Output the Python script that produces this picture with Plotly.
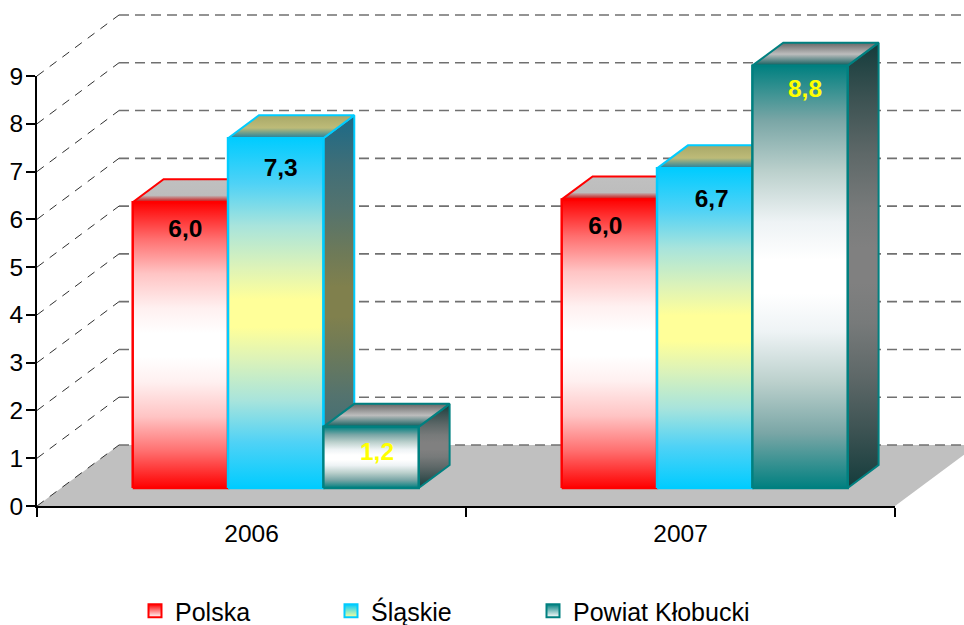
import plotly.graph_objects as go

# ---------- data ----------
categories = ["2006", "2007"]
series_names = ["Polska", "Śląskie", "Powiat Kłobucki"]
polska = [5.98, 6.04]
slaskie = [7.32, 6.69]
powiat = [1.28, 8.84]
label_polska = ["6,0", "6,0"]
label_slaskie = ["7,3", "6,7"]
label_powiat = ["1,2", "8,8"]
y_ticks = [0, 1, 2, 3, 4, 5, 6, 7, 8, 9]

# ---------- chart geometry (plot frame in pixels, oblique projection) ----------
W, H = 964, 625
L, R, T, B = 37, 895, 76, 506
PX_X = (R - L) / 2            # pixels per category
PX_Y = (B - T) / 9            # pixels per value unit
WALL_DX, WALL_DY = 82, 61     # oblique depth of the walls, pixels
BAR_D0, BAR_D1 = 18 / 61, 41 / 61  # bar front / back plane as fraction of wall depth
GAP = 1 / 6
BAR_W = (1 - 2 * GAP) / 3


def proj(x, y, d):
    return x + d * WALL_DX / PX_X, y + d * WALL_DY / PX_Y


FONT = "Liberation Sans, Arial, sans-serif"


def band(edge, s1, s2, s3, mid):
    return [[0, edge], [0.13, s1], [0.25, s2], [0.37, s3], [0.46, mid],
            [0.54, mid], [0.63, s3], [0.75, s2], [0.87, s1], [1, edge]]


front_scales = [
    band("#FF0000", "#FF7070", "#FFC4C4", "#FFF0F0", "#FFFFFF"),
    band("#00CCFF", "#4FD2F6", "#A8E4DC", "#DDF3B8", "#FFFF99"),
    band("#008080", "#7AA6A6", "#BBD0CC", "#EEF3F5", "#FFFFFF"),
]
side_scales = [
    band("#800000", "#A03838", "#A06262", "#807878", "#808080"),
    band("#1A6A88", "#3E6E78", "#54736E", "#6E7A58", "#80804D"),
    band("#143C3C", "#3D5353", "#5E6868", "#777A7A", "#808080"),
]
top_scales = [
    [[0, "#D00000"], [0.3, "#BDBDBD"], [1, "#C0C0C0"]],
    [[0, "#1C7FA0"], [0.45, "#BDBB78"], [1, "#A8A868"]],
    [[0, "#0F5C5C"], [0.5, "#BDBDBD"], [1, "#666666"]],
]
line_colors = ["#FF0000", "#00CCFF", "#008080"]
label_colors = ["black", "black", "#FFFF00"]

fig = go.Figure()


def poly(xs, ys, scale, line, width=2):
    fig.add_trace(go.Scatter(
        x=xs + [xs[0]], y=ys + [ys[0]], mode="lines", fill="toself", xaxis="x2", yaxis="y2",
        fillgradient=dict(type="vertical", colorscale=scale),
        line=dict(color=line, width=width),
        showlegend=False, hoverinfo="skip"))


# floor
corners = [proj(0, 0, 0), proj(0, 0, 1), proj(2, 0, 1), proj(2, 0, 0), proj(0, 0, 0)]
fig.add_trace(go.Scatter(
    x=[c[0] for c in corners], y=[c[1] for c in corners], mode="lines", fill="toself",
    xaxis="x2", yaxis="y2", fillcolor="#C0C0C0", line=dict(width=0),
    showlegend=False, hoverinfo="skip"))

# dashed grid on the walls
dx, dy, hx, hy = [], [], [], []
for v in y_ticks:
    a, b, c = proj(0, v, 0), proj(0, v, 1), proj(2, v, 1)
    dx += [a[0], b[0], None]
    dy += [a[1], b[1], None]
    hx += [b[0], c[0], None]
    hy += [b[1], c[1], None]
fig.add_trace(go.Scatter(
    x=dx, y=dy, mode="lines", line=dict(color="#303030", width=1, dash="8.5px,7.3px"),
    xaxis="x2", yaxis="y2", showlegend=False, hoverinfo="skip"))
fig.add_trace(go.Scatter(
    x=hx, y=hy, mode="lines", line=dict(color="#707070", width=1.6, dash="10px,6px"),
    xaxis="x2", yaxis="y2", showlegend=False, hoverinfo="skip"))

# bars
all_values = [polska, slaskie, powiat]
for ci in range(len(categories)):
    for si in range(3):
        v = all_values[si][ci]
        x0 = ci + GAP + si * BAR_W
        x1 = x0 + BAR_W
        a, b = BAR_D0, BAR_D1
        pts = {
            "fb": proj(x0, 0, a), "fB": proj(x1, 0, a),
            "ft": proj(x0, v, a), "fT": proj(x1, v, a),
            "bT": proj(x1, v, b), "bt": proj(x0, v, b), "bB": proj(x1, 0, b),
        }
        side = [pts["fB"], pts["bB"], pts["bT"], pts["fT"]]
        poly([p[0] for p in side], [p[1] for p in side], side_scales[si], line_colors[si])
        top = [pts["ft"], pts["fT"], pts["bT"], pts["bt"]]
        poly([p[0] for p in top], [p[1] for p in top], top_scales[si], line_colors[si])
        fr = [pts["fb"], pts["fB"], pts["fT"], pts["ft"]]
        poly([p[0] for p in fr], [p[1] for p in fr], front_scales[si], line_colors[si], 2.5)

# value labels: pixel nudges relative to the top centre of the bar's front face
nudges = [[(5, 29), (5, 32), (6, 27)], [(-4, 28), (7, 33), (5, 25)]]
all_labels = [label_polska, label_slaskie, label_powiat]
for ci in range(len(categories)):
    for si in range(3):
        v = all_values[si][ci]
        cx, cy = proj(ci + GAP + (si + 0.5) * BAR_W, v, BAR_D0)
        nx, ny = nudges[ci][si]
        fig.add_trace(go.Scatter(
            x=[cx + nx / PX_X], y=[cy - ny / PX_Y], mode="text", xaxis="x2", yaxis="y2",
            text=[all_labels[si][ci]], textposition="middle center",
            textfont=dict(family=FONT, size=24.5, color=label_colors[si], weight="bold"),
            showlegend=False, hoverinfo="skip"))

# legend entries: one legend per series so each can sit at its own place
legend_bottom = ["#FFFFFF", "#FFFF99", "#FFFFFF"]
legend_ids = ["legend", "legend2", "legend3"]
legend_left_px = [135, 331, 533]
for si, name in enumerate(series_names):
    fig.add_trace(go.Scatter(
        x=[None], y=[None], mode="markers", name=name, legend=legend_ids[si], showlegend=True,
        marker=dict(symbol="square", size=13, color=line_colors[si],
                    gradient=dict(type="vertical", color=legend_bottom[si]),
                    line=dict(color=line_colors[si], width=2))))

fig.update_layout(
    width=W, height=H, autosize=False,
    margin=dict(l=0, r=0, t=0, b=0, pad=0, autoexpand=False),
    paper_bgcolor="white", plot_bgcolor="rgba(0,0,0,0)",
    font=dict(family=FONT, size=24.5, color="black"),
    xaxis=dict(domain=[L / W, R / W], range=[0, 2], tickmode="array", tickvals=[0.5, 1.5],
               ticktext=categories, automargin=False, anchor="y",
               ticks="", showgrid=False, zeroline=False, showline=True,
               linecolor="black", linewidth=2, ticklabelstandoff=5,
               minor=dict(tickmode="array", tickvals=[0, 1, 2], ticks="outside",
                          ticklen=9, tickwidth=2, tickcolor="black", showgrid=False)),
    yaxis=dict(domain=[1 - B / H, 1 - T / H], range=[0, 9], tickmode="array", tickvals=y_ticks,
               automargin=False, anchor="x", ticks="outside", ticklabelstandoff=-2,
               ticklen=9, tickwidth=2, tickcolor="black", showgrid=False, zeroline=False,
               showline=True, linecolor="black", linewidth=2),
    # full-page axes carrying the oblique drawing, on the same scale as the axes above
    xaxis2=dict(domain=[0, 1], range=[-L / PX_X, (W - L) / PX_X], visible=False,
                anchor="y2", automargin=False),
    yaxis2=dict(domain=[0, 1], range=[(B - H) / PX_Y, B / PX_Y], visible=False,
                anchor="x2", automargin=False),
    hovermode=False,
)
for lid, left in zip(legend_ids, legend_left_px):
    fig.update_layout({lid: dict(
        orientation="h", x=left / W, y=1 - 588 / H, xanchor="left", yanchor="top",
        bgcolor="rgba(0,0,0,0)", font=dict(family=FONT, size=25),
        itemclick=False, itemdoubleclick=False)})

fig.write_html("out.html", config={"displayModeBar": False},
               post_script="document.body.style.margin='0';document.body.style.overflow='hidden';")
